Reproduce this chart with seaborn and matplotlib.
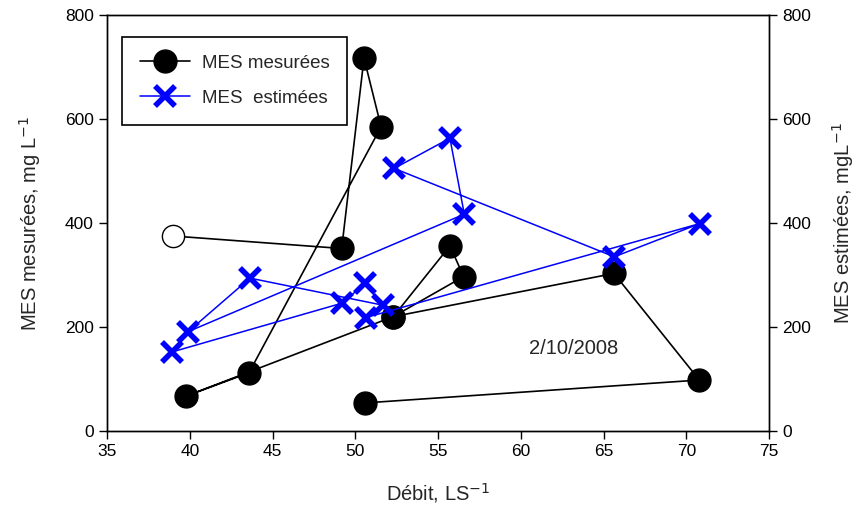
import matplotlib
matplotlib.use("Agg")
import matplotlib.pyplot as plt
from matplotlib.lines import Line2D
import seaborn as sns
import pandas as pd

# Measured suspended solids (time order); first point drawn as open circle
debit_mes = [38.99, 49.18, 50.53, 51.56, 43.58, 39.77, 52.30, 56.55, 55.72, 52.30, 65.63, 70.79, 50.59]
mes_mesurees = [375, 351, 717, 585, 112, 67, 220, 297, 356, 220, 303, 98, 54]

# Estimated suspended solids (time order)
debit_est = [38.93, 49.22, 50.59, 51.66, 43.64, 39.90, 56.59, 55.72, 52.35, 65.65, 70.83, 50.63]
mes_estimees = [152, 246, 284, 242, 294, 191, 417, 563, 505, 335, 399, 218]

x_ticks = [35, 40, 45, 50, 55, 60, 65, 70, 75]
y_ticks = [0, 200, 400, 600, 800]

sns.set_style("ticks")
plt.rcParams['font.family'] = ['Liberation Sans', 'DejaVu Sans']

fig = plt.figure(figsize=(8.63, 5.19), dpi=100)
ax = fig.add_axes([107/863, 1-431/519, (769-107)/863, (431-15)/519])
ax2 = ax.twinx()

df_m = pd.DataFrame({"debit": debit_mes, "mes": mes_mesurees})
df_e = pd.DataFrame({"debit": debit_est, "mes": mes_estimees})

sns.lineplot(data=df_m, x="debit", y="mes", sort=False, estimator=None, ax=ax,
             color="black", lw=1.2, zorder=3)
sns.lineplot(data=df_e, x="debit", y="mes", sort=False, estimator=None, ax=ax2,
             color="#0000ff", lw=1.1, zorder=3)
# filled circles (all but first), open circle first
ax.plot(df_m["debit"][1:], df_m["mes"][1:], ls="none", marker="o", ms=16.5,
        mfc="black", mec="black", zorder=4)
ax.plot(df_m["debit"][:1], df_m["mes"][:1], ls="none", marker="o", ms=16,
        mfc="white", mec="black", mew=1.0, zorder=4)
ax2.plot(df_e["debit"], df_e["mes"], ls="none", marker="x", ms=15, mew=4,
         color="#0000ff", zorder=4)

for a in (ax, ax2):
    a.set_xlim(35, 75)
    a.set_ylim(0, 800)
    a.set_yticks(y_ticks)
    for s in a.spines.values():
        s.set_visible(True)
        s.set_linewidth(1.0)
        s.set_color("black")
ax.set_xticks(x_ticks)
ax.tick_params(axis="both", direction="out", length=6, width=1.0, labelsize=12.5, colors="black")
ax2.tick_params(axis="y", direction="out", length=6, width=1.0, labelsize=12.5, colors="black")

ax.set_xlabel("Débit, LS$^{-1}$", fontsize=14.5, labelpad=16)
ax.set_ylabel("MES mesurées, mg L$^{-1}$", fontsize=14.5, labelpad=16)
ax2.set_ylabel("MES estimées, mgL$^{-1}$", fontsize=14.5, labelpad=14)

ax.text(63.2, 158, "2/10/2008", fontsize=14.5, ha="center", va="center")

handles = [
    Line2D([0], [0], color="black", lw=1.2, marker="o", ms=16.5, mfc="black"),
    Line2D([0], [0], color="#0000ff", lw=1.1, marker="x", ms=15, mew=4),
]
leg = ax2.legend(handles, ["MES mesurées", "MES  estimées"], loc="upper left",
                 bbox_to_anchor=((122-107)/662, 1-(37-15)/416), borderaxespad=0,
                 fontsize=13.5, frameon=True, fancybox=False, edgecolor="black",
                 framealpha=1, borderpad=0.95, handlelength=2.7, labelspacing=0.95,
                 handletextpad=0.6)
leg.get_frame().set_linewidth(1.2)

fig.savefig("out.png", dpi=100)
